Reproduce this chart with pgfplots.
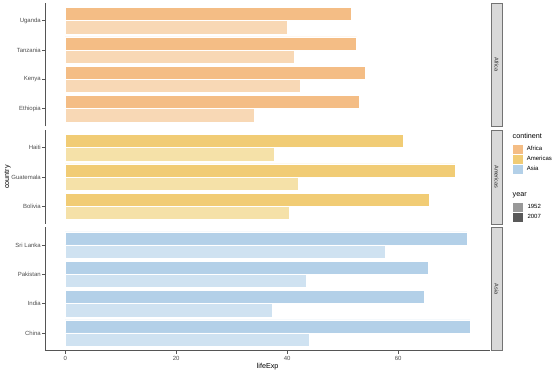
\documentclass[border=0pt]{standalone}
\usepackage{pgfplots}
\pgfplotsset{compat=1.18}
\usepackage{pgfplotstable}
\usepackage{fontspec}
\setmainfont{Liberation Sans}
\definecolor{af07}{HTML}{F4BD85}
\definecolor{af52}{HTML}{F8D8B5}
\definecolor{am07}{HTML}{F1CC75}
\definecolor{am52}{HTML}{F5E1A8}
\definecolor{as07}{HTML}{B3D0E8}
\definecolor{as52}{HTML}{CFE2F1}
\definecolor{tickgrey}{HTML}{4D4D4D}
\definecolor{linegrey}{HTML}{555555}

\pgfplotstableread{
y v1952 v2007
1 34.078 52.947
2 42.270 54.110
3 41.215 52.517
4 39.978 51.542
}\africa
\pgfplotstableread{
y v1952 v2007
1 40.414 65.554
2 42.023 70.259
3 37.579 60.916
}\americas
\pgfplotstableread{
y v1952 v2007
1 44.000 72.961
2 37.373 64.698
3 43.436 65.483
4 57.593 72.396
}\asia

\pgfplotsset{
  panel/.style={
    scale only axis, width=445.4pt,
    xmin=-3.648, xmax=76.609,
    y=29.33pt,
    axis y line*=left,
    axis line style={linegrey, line width=0.6pt},
    tick align=outside, major tick length=3pt,
    tick style={linegrey, line width=0.5pt},
    /pgf/number format/assume math mode=true,
    yticklabel style={font=\fontsize{6}{7}\selectfont, text=tickgrey, inner sep=1pt},
    xticklabel style={font=\fontsize{6}{7}\selectfont, text=tickgrey, inner sep=1pt, yshift=-1.5pt},
    anchor=north west,
  },
  bars/.style={xbar, bar width=0.45, draw=white, line width=0.4pt},
}

\begin{document}
\begin{tikzpicture}[x=1pt,y=1pt]
\path[use as bounding box] (0,0) rectangle (560,373);

% Africa
\begin{axis}[panel, at={(45pt,369.9pt)}, ymin=0.4, ymax=4.6,
  axis x line=none,
  ytick={1,2,3,4}, yticklabels={Ethiopia,Kenya,Tanzania,Uganda}]
\addplot[bars, fill=af07] table[x=v2007, y expr=\thisrow{y}+0.225]{\africa};
\addplot[bars, fill=af52] table[x=v1952, y expr=\thisrow{y}-0.225]{\africa};
\end{axis}

% Americas
\begin{axis}[panel, at={(45pt,242.9pt)}, ymin=0.4, ymax=3.6,
  axis x line=none,
  ytick={1,2,3}, yticklabels={Bolivia,Guatemala,Haiti}]
\addplot[bars, fill=am07] table[x=v2007, y expr=\thisrow{y}+0.225]{\americas};
\addplot[bars, fill=am52] table[x=v1952, y expr=\thisrow{y}-0.225]{\americas};
\end{axis}

% Asia
\begin{axis}[panel, at={(45pt,145.6pt)}, ymin=0.4, ymax=4.6,
  axis x line*=bottom,
  xtick={0,20,40,60},
  ytick={1,2,3,4}, yticklabels={China,India,Pakistan,Sri Lanka},
  xlabel={lifeExp}, xlabel style={font=\fontsize{7.2}{8}\selectfont, inner sep=0pt, yshift=-1.5pt}]
\addplot[bars, fill=as07] table[x=v2007, y expr=\thisrow{y}+0.225]{\asia};
\addplot[bars, fill=as52] table[x=v1952, y expr=\thisrow{y}-0.225]{\asia};
\end{axis}

% y title
\node[rotate=90, font=\fontsize{7.2}{8}\selectfont] at (7.5,196) {country};

% strips
\draw[fill=black!15, draw=black!55, line width=0.6pt] (490.8,246.7) rectangle (502.2,369.9);
\draw[fill=black!15, draw=black!55, line width=0.6pt] (490.8,149.0) rectangle (502.2,242.9);
\draw[fill=black!15, draw=black!55, line width=0.6pt] (490.8,22.4) rectangle (502.2,145.6);
\node[rotate=-90, font=\fontsize{5.5}{6}\selectfont, text=black!85] at (496.5,308.3) {Africa};
\node[rotate=-90, font=\fontsize{5.5}{6}\selectfont, text=black!85] at (496.5,196.0) {Americas};
\node[rotate=-90, font=\fontsize{5.5}{6}\selectfont, text=black!85] at (496.5,84.0) {Asia};

% legend: continent
\node[anchor=west, inner sep=0pt, font=\fontsize{7.2}{8}\selectfont] at (512.5,237) {continent};
\fill[af07, draw=white, line width=0.6pt] (512.5,219.2) rectangle (523.3,229.2);
\fill[am07, draw=white, line width=0.6pt] (512.5,209.2) rectangle (523.3,219.2);
\fill[as07, draw=white, line width=0.6pt] (512.5,199.2) rectangle (523.3,209.2);
\node[anchor=west, inner sep=0pt, font=\fontsize{6}{7}\selectfont] at (526.7,224.2) {Africa};
\node[anchor=west, inner sep=0pt, font=\fontsize{6}{7}\selectfont] at (526.7,214.2) {Americas};
\node[anchor=west, inner sep=0pt, font=\fontsize{6}{7}\selectfont] at (526.7,204.2) {Asia};

% legend: year
\node[anchor=west, inner sep=0pt, font=\fontsize{7.2}{8}\selectfont] at (512.5,178) {year};
\fill[black!40, draw=white, line width=0.6pt] (512.5,161.2) rectangle (523.3,171.2);
\fill[black!65, draw=white, line width=0.6pt] (512.5,151.2) rectangle (523.3,161.2);
\node[anchor=west, inner sep=0pt, font=\fontsize{6}{7}\selectfont] at (527.3,166.2) {1952};
\node[anchor=west, inner sep=0pt, font=\fontsize{6}{7}\selectfont] at (527.3,156.2) {2007};
\end{tikzpicture}
\end{document}
